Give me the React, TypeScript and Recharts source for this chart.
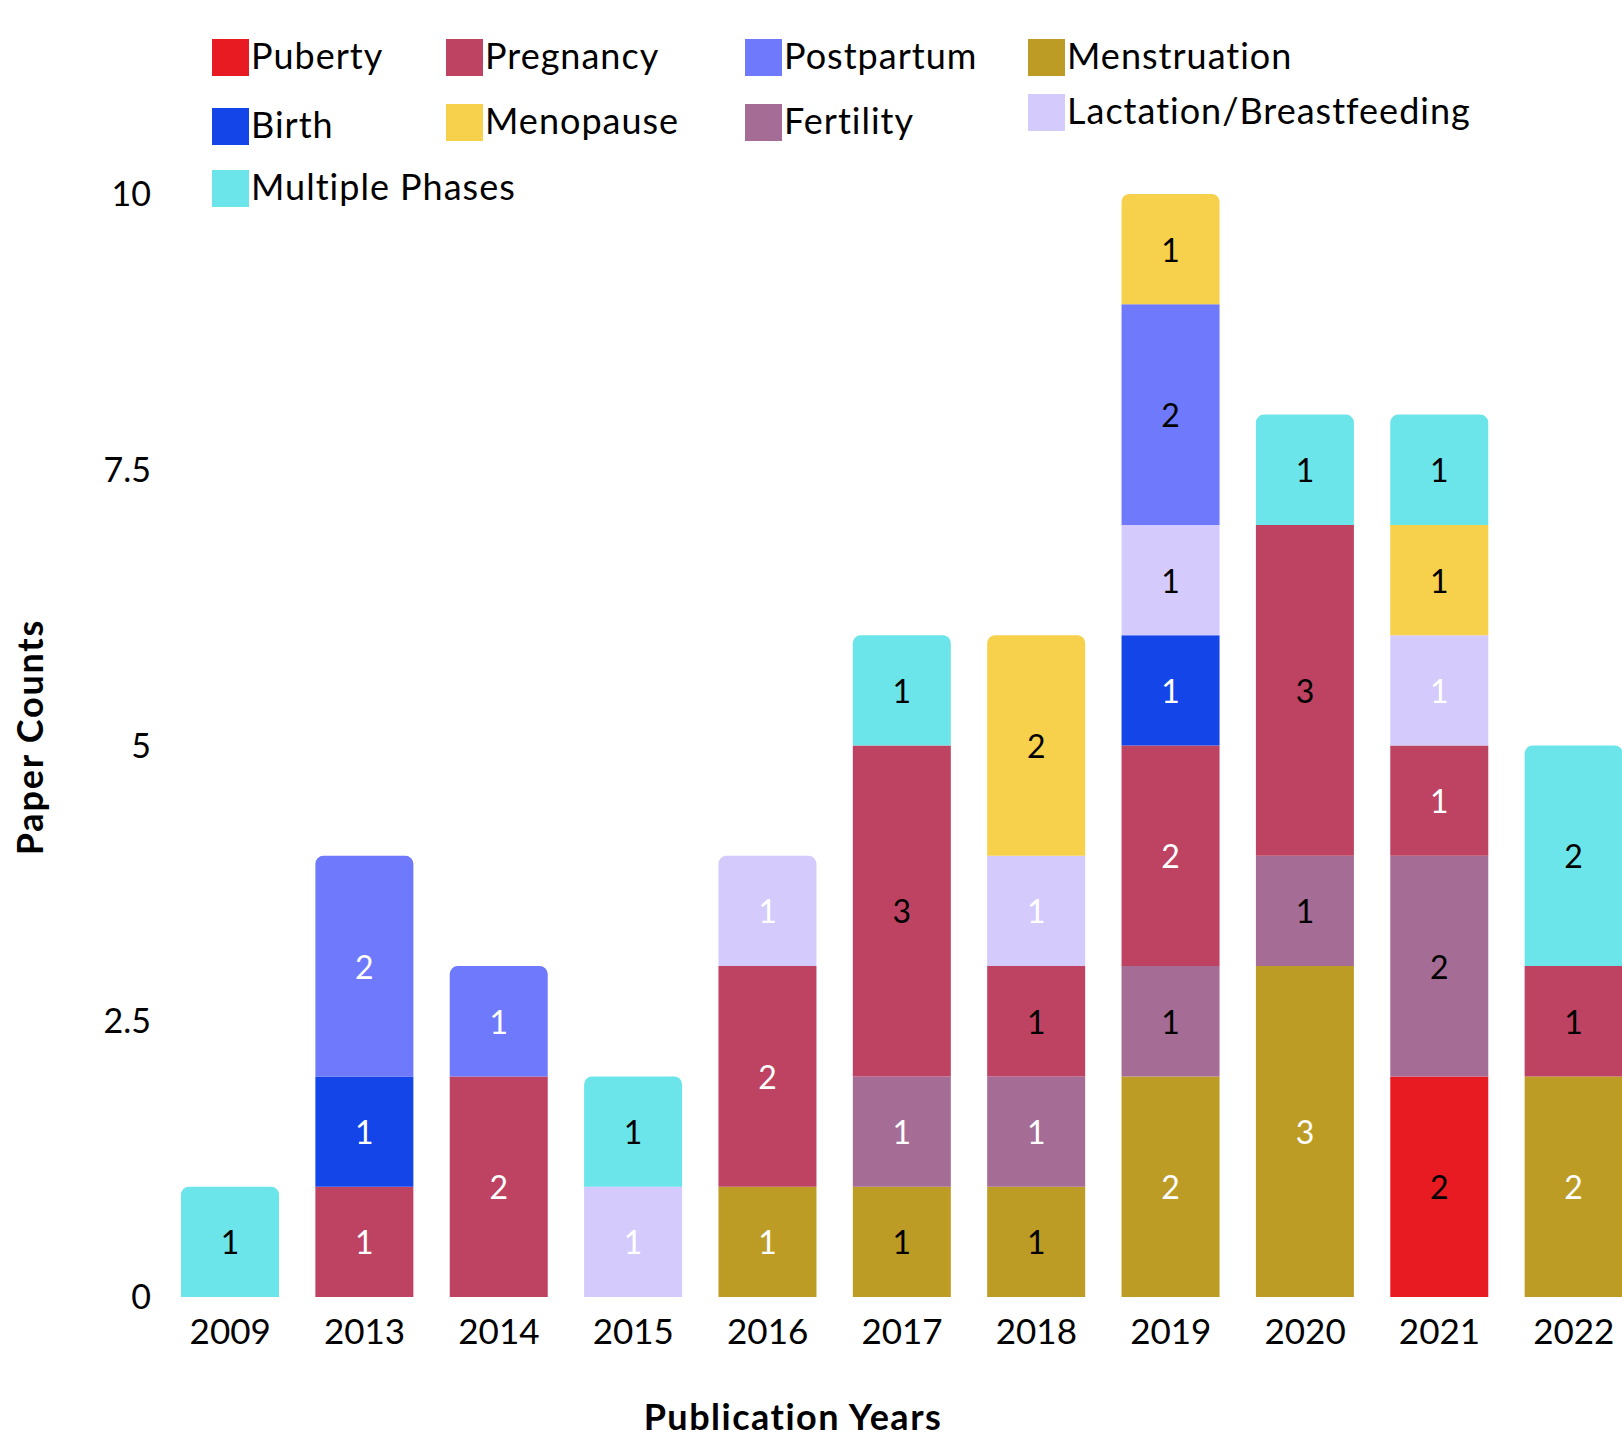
import React from 'react';
import { BarChart, Bar, XAxis, YAxis, LabelList, Rectangle } from 'recharts';

// publication years (x categories)
const years = ['2009', '2013', '2014', '2015', '2016', '2017', '2018', '2019', '2020', '2021', '2022'];

// paper counts per life phase, same order as years
const puberty = [0, 0, 0, 0, 0, 0, 0, 0, 0, 2, 0];
const menstruation = [0, 0, 0, 0, 1, 1, 1, 2, 3, 0, 2];
const fertility = [0, 0, 0, 0, 0, 1, 1, 1, 1, 2, 0];
const pregnancy = [0, 1, 2, 0, 2, 3, 1, 2, 3, 1, 1];
const birth = [0, 1, 0, 0, 0, 0, 0, 1, 0, 0, 0];
const lactation = [0, 0, 0, 1, 1, 0, 1, 1, 0, 1, 0];
const postpartum = [0, 2, 1, 0, 0, 0, 0, 2, 0, 0, 0];
const menopause = [0, 0, 0, 0, 0, 0, 2, 1, 0, 1, 0];
const multiple = [1, 0, 0, 1, 0, 1, 0, 0, 1, 1, 2];

const yTicks = [0, 2.5, 5, 7.5, 10];

// stack order, bottom to top
const series = [
  { key: 'puberty', name: 'Puberty', color: '#E81A22', values: puberty },
  { key: 'menstruation', name: 'Menstruation', color: '#BD9C25', values: menstruation },
  { key: 'fertility', name: 'Fertility', color: '#A56C95', values: fertility },
  { key: 'pregnancy', name: 'Pregnancy', color: '#BE4362', values: pregnancy },
  { key: 'birth', name: 'Birth', color: '#1445E8', values: birth },
  { key: 'lactation', name: 'Lactation/Breastfeeding', color: '#D4CAFC', values: lactation },
  { key: 'postpartum', name: 'Postpartum', color: '#6E79FB', values: postpartum },
  { key: 'menopause', name: 'Menopause', color: '#F7D14B', values: menopause },
  { key: 'multiple', name: 'Multiple Phases', color: '#6BE5E9', values: multiple },
];

// legend reading order (row by row)
const legendOrder = [
  'puberty', 'pregnancy', 'postpartum', 'menstruation',
  'birth', 'menopause', 'fertility', 'lactation',
  'multiple',
];

// which segment labels are drawn in black (the rest are white)
const blackLabels: Record<string, string[]> = {
  puberty: ['2021'],
  menstruation: ['2017', '2018'],
  fertility: ['2019', '2020', '2021'],
  pregnancy: ['2017', '2018', '2020', '2022'],
  birth: [],
  lactation: ['2019'],
  postpartum: ['2019'],
  menopause: ['2018', '2019', '2021'],
  multiple: ['2009', '2015', '2017', '2020', '2021', '2022'],
};

const data = years.map((year, i) => {
  const row: any = { year };
  series.forEach((s) => { row[s.key] = s.values[i]; });
  return row;
});

const FONT = 'Lato, "Noto Sans", sans-serif';

const topKeyOf = (row: any) => {
  for (let i = series.length - 1; i >= 0; i--) {
    if (row[series[i].key] > 0) return series[i].key;
  }
  return null;
};

const makeShape = (key: string) => (props: any) => {
  if (!props.height || props.height <= 0) return null;
  const r = topKeyOf(props.payload) === key ? 8 : 0;
  return <Rectangle {...props} radius={[r, r, 0, 0]} />;
};

const makeLabel = (key: string) => (props: any) => {
  const { x, y, width, height, value, index } = props;
  if (!value) return null;
  const dark = blackLabels[key].includes(years[index]);
  return (
    <text
      x={x + width / 2}
      y={y + height / 2}
      textAnchor="middle"
      dominantBaseline="central"
      fontSize={32}
      fontFamily={FONT}
      fill={dark ? '#000' : '#fff'}
    >
      {value}
    </text>
  );
};

const legendCols = [212, 446, 745, 1028];
const legendRows = [39, 104, 170];
// the source legend is not perfectly aligned
const legendNudge: Record<string, number> = { birth: 4, lactation: -10 };

export default function App() {
  return (
    <div
      style={{
        position: 'absolute',
        left: 0,
        top: 0,
        width: 1622,
        height: 1437,
        overflow: 'hidden',
        background: '#fff',
        fontFamily: FONT,
      }}
    >
      <BarChart
        width={1660}
        height={1437}
        data={data}
        margin={{ top: 194, right: 19, bottom: 80, left: 63 }}
      >
        <XAxis
          dataKey="year"
          interval={0}
          axisLine={false}
          tickLine={false}
          tickSize={0}
          tickMargin={22}
          height={60}
          tick={{ fontSize: 35, fill: '#000', fontFamily: FONT }}
        />
        <YAxis
          domain={[0, 10]}
          ticks={yTicks}
          axisLine={false}
          tickLine={false}
          tickSize={0}
          tickMargin={12}
          width={100}
          tick={{ fontSize: 34, fill: '#000', fontFamily: FONT }}
        />
        {series.map((s) => (
          <Bar
            key={s.key}
            dataKey={s.key}
            name={s.name}
            stackId="a"
            fill={s.color}
            barSize={98}
            isAnimationActive={false}
            shape={makeShape(s.key)}
          >
            <LabelList dataKey={s.key} content={makeLabel(s.key)} />
          </Bar>
        ))}
      </BarChart>

      <svg
        width={1622}
        height={1437}
        style={{ position: 'absolute', left: 0, top: 0, pointerEvents: 'none' }}
      >
        {legendOrder.map((k, i) => {
          const s = series.find((d) => d.key === k)!;
          const left = legendCols[i % 4];
          const top = legendRows[Math.floor(i / 4)] + (legendNudge[k] || 0);
          return (
            <g key={k}>
              <rect x={left} y={top} width={37} height={37} fill={s.color} />
              <text
                x={left + 39}
                y={top + 30}
                fontSize={36}
                letterSpacing={1}
                fontFamily={FONT}
                fill="#000"
              >
                {s.name}
              </text>
            </g>
          );
        })}
        <text
          transform="translate(43, 737) rotate(-90)"
          textAnchor="middle"
          fontSize={36}
          fontWeight={700}
          letterSpacing={1.8}
          fontFamily={FONT}
          fill="#000"
        >
          Paper Counts
        </text>
        <text
          x={793}
          y={1430}
          textAnchor="middle"
          fontSize={36}
          fontWeight={700}
          letterSpacing={1.5}
          fontFamily={FONT}
          fill="#000"
        >
          Publication Years
        </text>
      </svg>
    </div>
  );
}
